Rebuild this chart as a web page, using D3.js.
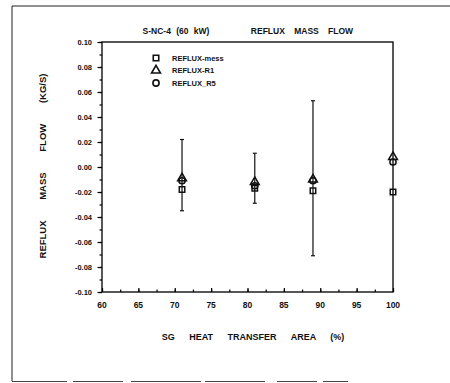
<!DOCTYPE html>
<html>
<head>
<meta charset="utf-8">
<script src="https://cdn.jsdelivr.net/npm/d3@7"></script>
<style>
  body { margin: 0; background: #fff; }
  svg text { font-family: "Liberation Sans", Arial, sans-serif; font-weight: bold; fill: #111; }
</style>
</head>
<body>
<svg id="chart" width="450" height="383"></svg>
<script>
// heat transfer area (%) and reflux mass flows (kg/s)
const areas = [71, 81, 89, 100];
const refluxMess = [-0.018, -0.017, -0.019, -0.020];
const refluxR1 = [-0.009, -0.012, -0.010, 0.008];
const refluxR5 = [-0.011, -0.015, -0.011, 0.004];
const errUpper = [0.022, 0.011, 0.053, null];
const errLower = [-0.035, -0.029, -0.071, null];
const xTicks = [60, 65, 70, 75, 80, 85, 90, 95, 100];
const yTicks = [0.10, 0.08, 0.06, 0.04, 0.02, 0.00, -0.02, -0.04, -0.06, -0.08, -0.10];

const svg = d3.select("#chart");
const plotL = 102, plotR = 393, plotT = 42, plotB = 292;

const x = d3.scaleLinear().domain([60, 100]).range([plotL, plotR]);
const y = d3.scaleLinear().domain([-0.10, 0.10]).range([plotB, plotT]);

// outer page frame
svg.append("path")
  .attr("d", "M12,381 L12,6 L450,6")
  .attr("fill", "none").attr("stroke", "#222").attr("stroke-width", 1);
svg.append("line").attr("x1", 12).attr("x2", 348).attr("y1", 381.5).attr("y2", 381.5)
  .attr("stroke", "#444").attr("stroke-width", 1).attr("stroke-dasharray", "55 6 50 8 70 4 60 12 40 6");

// plot box
svg.append("rect")
  .attr("x", plotL).attr("y", plotT)
  .attr("width", plotR - plotL).attr("height", plotB - plotT)
  .attr("fill", "none").attr("stroke", "#111").attr("stroke-width", 1.4);

// x axis, ticks pointing inside
const xAxis = svg.append("g").attr("transform", `translate(0,${plotB})`);
xAxis.call(d3.axisTop(x).tickValues(d3.range(60, 100.1, 2.5)).tickSize(2.5).tickFormat(""));
xAxis.append("g").call(d3.axisTop(x).tickValues(xTicks).tickSize(4).tickFormat(""));
xAxis.selectAll(".domain").remove();
xAxis.selectAll(".tick line").attr("stroke-width", 1.2);
svg.append("g").selectAll("text").data(xTicks).join("text")
  .attr("x", d => x(d)).attr("y", 308)
  .attr("text-anchor", "middle").attr("font-size", 8.5)
  .text(d => d);

// y axis, ticks pointing outside
const yAxis = svg.append("g").attr("transform", `translate(${plotL},0)`);
yAxis.call(d3.axisLeft(y).tickValues(d3.range(-0.10, 0.1001, 0.01)).tickSize(2.5).tickFormat(""));
yAxis.append("g").call(d3.axisLeft(y).tickValues(yTicks).tickSize(4.5).tickFormat(""));
yAxis.selectAll(".domain").remove();
yAxis.selectAll(".tick line").attr("stroke-width", 1.2);
svg.append("g").selectAll("text").data(yTicks).join("text")
  .attr("x", 92).attr("y", d => y(d) + 2.7)
  .attr("text-anchor", "end").attr("font-size", 7.5)
  .text(d => d3.format(".2f")(d).replace("−", "-"));

// error bars
const bars = areas.map((a, i) => ({ a, hi: errUpper[i], lo: errLower[i] })).filter(d => d.hi !== null);
const eb = svg.append("g").attr("stroke", "#111").attr("stroke-width", 1.2);
eb.selectAll(".v").data(bars).join("line")
  .attr("x1", d => x(d.a)).attr("x2", d => x(d.a))
  .attr("y1", d => y(d.hi)).attr("y2", d => y(d.lo));
eb.selectAll(".t").data(bars).join("line")
  .attr("x1", d => x(d.a) - 2).attr("x2", d => x(d.a) + 2)
  .attr("y1", d => y(d.hi)).attr("y2", d => y(d.hi));
eb.selectAll(".b").data(bars).join("line")
  .attr("x1", d => x(d.a) - 2).attr("x2", d => x(d.a) + 2)
  .attr("y1", d => y(d.lo)).attr("y2", d => y(d.lo));

// markers
const sym = {
  square: d3.symbol().type(d3.symbolSquare).size(30),
  triangle: d3.symbol().type(d3.symbolTriangle).size(34),
  circle: d3.symbol().type(d3.symbolCircle).size(30)
};
function drawSeries(vals, shape) {
  svg.append("g").selectAll("path").data(vals).join("path")
    .attr("d", sym[shape]())
    .attr("transform", (d, i) => `translate(${x(areas[i])},${y(d)})`)
    .attr("fill", "none").attr("stroke", "#111").attr("stroke-width", 1.5);
}
drawSeries(refluxMess, "square");
drawSeries(refluxR1, "triangle");
drawSeries(refluxR5, "circle");

// legend
const legend = [
  { name: "REFLUX-mess", shape: "square" },
  { name: "REFLUX-R1", shape: "triangle" },
  { name: "REFLUX_R5", shape: "circle" }
];
const lg = svg.append("g").selectAll("g").data(legend).join("g")
  .attr("transform", (d, i) => `translate(156,${58 + i * 12.5})`);
lg.append("path").attr("d", d => sym[d.shape]())
  .attr("fill", "none").attr("stroke", "#111").attr("stroke-width", 1.6);
lg.append("text").attr("x", 16).attr("y", 2.8).attr("font-size", 7.5).text(d => d.name);

// titles
svg.append("text").attr("x", 176).attr("y", 34).attr("text-anchor", "middle")
  .attr("font-size", 8.5).attr("word-spacing", 3).text("S-NC-4 (60 kW)");
svg.append("text").attr("x", 302).attr("y", 34).attr("text-anchor", "middle")
  .attr("font-size", 8.5).attr("word-spacing", 7).text("REFLUX MASS FLOW");
svg.append("text").attr("x", 253).attr("y", 340).attr("text-anchor", "middle")
  .attr("font-size", 9).attr("word-spacing", 12).text("SG HEAT TRANSFER AREA (%)");
svg.append("text").attr("transform", "translate(46,166) rotate(-90)").attr("text-anchor", "middle")
  .attr("font-size", 9.5).attr("word-spacing", 18).text("REFLUX MASS FLOW (KG/S)");
</script>
</body>
</html>
